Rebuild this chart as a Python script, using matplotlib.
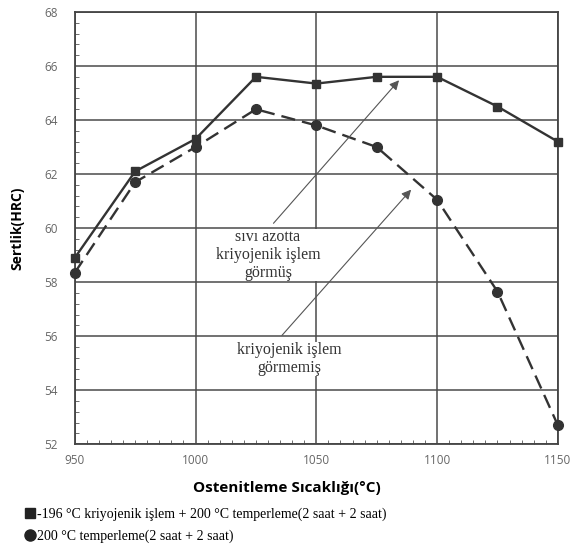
import matplotlib.pyplot as plt
from matplotlib.ticker import MultipleLocator
from matplotlib.lines import Line2D

# Austenitizing temperature (°C)
temps = [950, 975, 1000, 1025, 1050, 1075, 1100, 1125, 1150]
# Hardness with cryogenic treatment (square, solid)
hrc_cryo = [58.9, 62.1, 63.3, 65.6, 65.35, 65.6, 65.6, 64.5, 63.2]
# Hardness without cryogenic treatment (circle, dashed)
hrc_plain = [58.35, 61.7, 63.0, 64.4, 63.8, 63.0, 61.05, 57.65, 52.7]

x_ticks = [950, 1000, 1050, 1100, 1150]
y_ticks = [52, 54, 56, 58, 60, 62, 64, 66, 68]

legend_labels = ["-196 °C kriyojenik işlem + 200 °C temperleme(2 saat + 2 saat)",
                 "200 °C temperleme(2 saat + 2 saat)"]

serif = "Liberation Serif"
sans = "Open Sans"
dark = "#333333"

fig = plt.figure(figsize=(5.71, 5.45), dpi=100)
ax = fig.add_axes([0.131, 0.185, 0.846, 0.793])

ax.plot(temps, hrc_cryo, color=dark, lw=1.7, marker="s", ms=5.5, zorder=3, clip_on=False)
ax.plot(temps, hrc_plain, color=dark, lw=1.7, ls=(0, (6, 3)), marker="o", ms=7,
        zorder=3, clip_on=False)

ax.set_xlim(950, 1150)
ax.set_ylim(52, 68)
ax.set_xticks(x_ticks)
ax.set_yticks(y_ticks)
ax.xaxis.set_minor_locator(MultipleLocator(5))
ax.yaxis.set_minor_locator(MultipleLocator(0.4))
ax.tick_params(which="both", direction="in", top=False, right=False,
               labelsize=8.5, labelcolor="#666666", color="#555555")
ax.tick_params(which="major", length=0)
ax.tick_params(axis="y", which="major", pad=12)
ax.tick_params(axis="x", which="major", pad=7)
ax.tick_params(which="minor", length=3)
for lab in ax.get_xticklabels() + ax.get_yticklabels():
    lab.set_family(sans)

ax.grid(True, which="major", color="#4a4a4a", lw=1.1)
for s in ax.spines.values():
    s.set_color("#444444")
    s.set_linewidth(1.3)

ax.set_xlabel("Ostenitleme Sıcaklığı(°C)", family=sans, fontweight="bold", fontsize=11)
ax.xaxis.set_label_coords(0.44, -0.085)
ax.set_ylabel("Sertlik(HRC)", family=sans, fontweight="bold", fontsize=10)
ax.yaxis.set_label_coords(-0.105, 0.5)

# annotations with arrows
ax.annotate("", xy=(1085, 65.55), xytext=(1031.5, 60.1),
            arrowprops=dict(arrowstyle="-|>", color="#555555", lw=0.8, mutation_scale=14))
ax.text(1030, 59.0, "sıvı azotta\nkriyojenik işlem\ngörmüş", family=serif,
        fontsize=11.5, color="#333333", ha="center", va="center", linespacing=1.2,
        bbox=dict(fc="white", ec="none", pad=0))
ax.annotate("", xy=(1090, 61.5), xytext=(1035, 55.95),
            arrowprops=dict(arrowstyle="-|>", color="#555555", lw=0.8, mutation_scale=14))
ax.text(1039, 55.15, "kriyojenik işlem\ngörmemiş", family=serif,
        fontsize=11.5, color="#333333", ha="center", va="center", linespacing=1.2,
        bbox=dict(fc="white", ec="none", pad=0))

handles = [Line2D([], [], ls="none", marker="s", ms=7, color="#222222"),
           Line2D([], [], ls="none", marker="o", ms=8, color="#222222")]
fig.legend(handles, legend_labels, loc="upper left", bbox_to_anchor=(0.045, 0.069),
           frameon=False, prop=dict(family=serif, size=10), handlelength=0.6,
           handletextpad=0.2, labelspacing=0.6, borderaxespad=0, borderpad=0)

fig.savefig("out.png", dpi=100)
